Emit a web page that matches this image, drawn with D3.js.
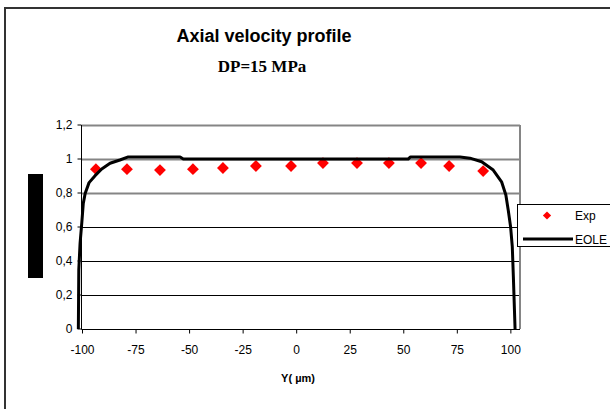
<!DOCTYPE html>
<html><head><meta charset="utf-8">
<script src="https://cdn.jsdelivr.net/npm/d3@7"></script>
<style>html,body{margin:0;padding:0;background:#fff;}svg{display:block;}</style>
</head><body>
<script>
const title = "Axial velocity profile";
const subtitle = "DP=15 MPa";
const xLabel = "Y( µm)";
const xTicks = [-100, -75, -50, -25, 0, 25, 50, 75, 100];
const yTicks = [0, 0.2, 0.4, 0.6, 0.8, 1, 1.2];
const expX = [-93.5, -79, -63.6, -48.2, -34.2, -18.8, -2.4, 12.5, 28.4, 43.3, 58.3, 71.4, 87.3];
const expY = [0.94, 0.94, 0.935, 0.94, 0.947, 0.959, 0.959, 0.976, 0.976, 0.976, 0.976, 0.959, 0.929];
const eoleX = [-101.7, -101.5, -100.9, -100.1, -99.4, -98.5, -96.7, -93.9, -90.8, -86.9, -82.3, -78.4, -54.2, -52.7,
  52.3, 53.4, 76.5, 81.1, 86.6, 92.0, 95.9, 97.9, 99.0, 100.1, 100.9, 101.4, 102.2];
const eoleY = [0, 0.347, 0.504, 0.624, 0.739, 0.798, 0.861, 0.902, 0.941, 0.975, 0.994, 1.012, 1.012, 1.0,
  1.0, 1.012, 1.012, 1.005, 0.984, 0.935, 0.866, 0.788, 0.7, 0.602, 0.484, 0.308, 0];
const seriesNames = ["Exp", "EOLE"];

const W = 610, H = 409;
const svg = d3.select("body").append("svg").attr("width", W).attr("height", H);
const L = 82, R = 520, T = 125, B = 329;
const x = d3.scaleLinear().domain([-100, 104.5]).range([L, R]);
const y = d3.scaleLinear().domain([0, 1.2]).range([B, T]);
const fmt = v => String(+v.toFixed(1)).replace(".", ",");
const snap = v => Math.round(v) + 0.5;

// outer frame
svg.append("rect").attr("x", 5).attr("y", 8).attr("width", 700).attr("height", 500)
  .attr("fill", "none").attr("stroke", "#333").attr("stroke-width", 2);

// titles
svg.append("text").attr("x", 264).attr("y", 42).attr("text-anchor", "middle")
  .attr("font-family", "Liberation Sans, Arial, sans-serif").attr("font-weight", "bold")
  .attr("font-size", 18).text(title);
svg.append("text").attr("x", 262).attr("y", 72).attr("text-anchor", "middle")
  .attr("font-family", "Liberation Serif, Times New Roman, serif").attr("font-weight", "bold")
  .attr("font-size", 17).text(subtitle);

// gridlines
yTicks.filter(v => v > 0).forEach(v => {
  const grey = v >= 0.8;
  svg.append("line").attr("x1", L).attr("x2", R).attr("y1", snap(y(v))).attr("y2", snap(y(v)))
    .attr("stroke", grey ? "#858585" : "#000").attr("stroke-width", grey ? 2 : 1);
});
svg.append("line").attr("x1", R).attr("x2", R).attr("y1", T).attr("y2", B)
  .attr("stroke", "#858585").attr("stroke-width", 2);

// axes
const yAxis = d3.axisLeft(y).tickValues(yTicks).tickSize(4).tickPadding(5).tickFormat(fmt);
const gy = svg.append("g").attr("transform", `translate(${L - 0.5},0)`).call(yAxis);
const xAxis = d3.axisBottom(x).tickValues(xTicks).tickSize(4).tickPadding(12).tickFormat(d => String(d));
const gx = svg.append("g").attr("transform", `translate(0,${B + 0.5})`).call(xAxis);
[gx, gy].forEach(g => {
  g.selectAll("text").attr("font-family", "Liberation Sans, Arial, sans-serif").attr("font-size", 12).attr("fill", "#000");
  g.selectAll("line").attr("stroke", "#000");
  g.select(".domain").attr("stroke", "#000").attr("d", null);
});
gy.selectAll(".tick").attr("transform", d => `translate(0,${snap(y(d)) - 0.5})`);
gy.append("line").attr("x1", 0).attr("x2", 0).attr("y1", T).attr("y2", B + 0.5).attr("stroke", "#000");
gx.append("line").attr("x1", L - 0.5).attr("x2", R).attr("y1", 0).attr("y2", 0).attr("stroke", "#000");

// x label
svg.append("text").attr("x", 298).attr("y", 382).attr("text-anchor", "middle")
  .attr("font-family", "Liberation Sans, Arial, sans-serif").attr("font-weight", "bold")
  .attr("font-size", 11).text(xLabel);

// blacked-out y title
svg.append("rect").attr("x", 28).attr("y", 174).attr("width", 15).attr("height", 104).attr("fill", "#000");

// Exp points
const diamond = d3.symbol().type(d3.symbolSquare).size(70);
svg.append("g").selectAll("path").data(expX.map((v, i) => [v, expY[i]])).join("path")
  .attr("d", diamond).attr("fill", "#ff0000")
  .attr("transform", d => `translate(${x(d[0])},${y(d[1])}) rotate(45)`);

// EOLE line
const line = d3.line().x(d => x(d[0])).y(d => y(d[1]));
svg.append("path").datum(eoleX.map((v, i) => [v, eoleY[i]]))
  .attr("d", line).attr("fill", "none").attr("stroke", "#000").attr("stroke-width", 3)
  .attr("stroke-linejoin", "round");

// legend
const lg = svg.append("g");
lg.append("rect").attr("x", 517.5).attr("y", 204.5).attr("width", 120).attr("height", 42)
  .attr("fill", "#fff").attr("stroke", "#000").attr("stroke-width", 1);
lg.append("path").attr("d", d3.symbol().type(d3.symbolSquare).size(34)())
  .attr("transform", "translate(547,215.5) rotate(45)").attr("fill", "#ff0000");
lg.append("line").attr("x1", 523).attr("x2", 573).attr("y1", 239).attr("y2", 239)
  .attr("stroke", "#000").attr("stroke-width", 3);
lg.selectAll("text").data(seriesNames).join("text")
  .attr("x", 575).attr("y", (d, i) => i === 0 ? 220 : 243.5)
  .attr("font-family", "Liberation Sans, Arial, sans-serif").attr("font-size", 12).text(d => d);
</script>
</body></html>
